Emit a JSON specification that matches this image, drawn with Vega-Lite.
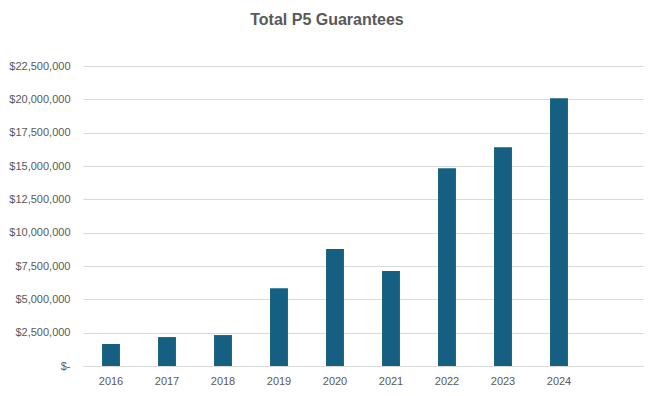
{
  "$schema": "https://vega.github.io/schema/vega-lite/v6.json",
  "width": 560,
  "height": 300,
  "autosize": {"type": "none"},
  "padding": {"left": 83, "top": 66, "right": 11, "bottom": 30},
  "background": "white",
  "title": {
    "text": "Total P5 Guarantees",
    "font": "Liberation Sans",
    "fontSize": 16,
    "fontWeight": "bold",
    "color": "#595959",
    "anchor": "middle",
    "baseline": "alphabetic",
    "offset": 19,
    "dx": -36
  },
  "data": {
    "values": [
      {"year": "2016", "amount": 1650000},
      {"year": "2017", "amount": 2170000},
      {"year": "2018", "amount": 2320000},
      {"year": "2019", "amount": 5840000},
      {"year": "2020", "amount": 8770000},
      {"year": "2021", "amount": 7120000},
      {"year": "2022", "amount": 14830000},
      {"year": "2023", "amount": 16400000},
      {"year": "2024", "amount": 20080000}
    ]
  },
  "mark": {"type": "bar", "color": "#156082"},
  "encoding": {
    "x": {
      "field": "year",
      "type": "nominal",
      "sort": null,
      "scale": {
        "domain": ["2016", "2017", "2018", "2019", "2020", "2021", "2022", "2023", "2024", " "],
        "paddingInner": 0.68,
        "paddingOuter": 0.34
      },
      "axis": {
        "title": null,
        "labelAngle": 0,
        "ticks": false,
        "domain": true,
        "domainColor": "#d9d9d9",
        "labelFont": "Liberation Sans",
        "labelFontSize": 11,
        "labelColor": "#595959",
        "labelPadding": 9
      }
    },
    "y": {
      "field": "amount",
      "type": "quantitative",
      "scale": {"domain": [0, 22500000], "nice": false},
      "axis": {
        "title": null,
        "values": [0, 2500000, 5000000, 7500000, 10000000, 12500000, 15000000, 17500000, 20000000, 22500000],
        "labelExpr": "datum.value == 0 ? '$-' : '$' + format(datum.value, ',')",
        "domain": false,
        "ticks": false,
        "grid": true,
        "gridColor": "#d9d9d9",
        "gridWidth": 1,
        "labelFont": "Liberation Sans",
        "labelFontSize": 11,
        "labelColor": "#595959",
        "labelPadding": 13
      }
    }
  },
  "config": {"view": {"stroke": null}}
}
